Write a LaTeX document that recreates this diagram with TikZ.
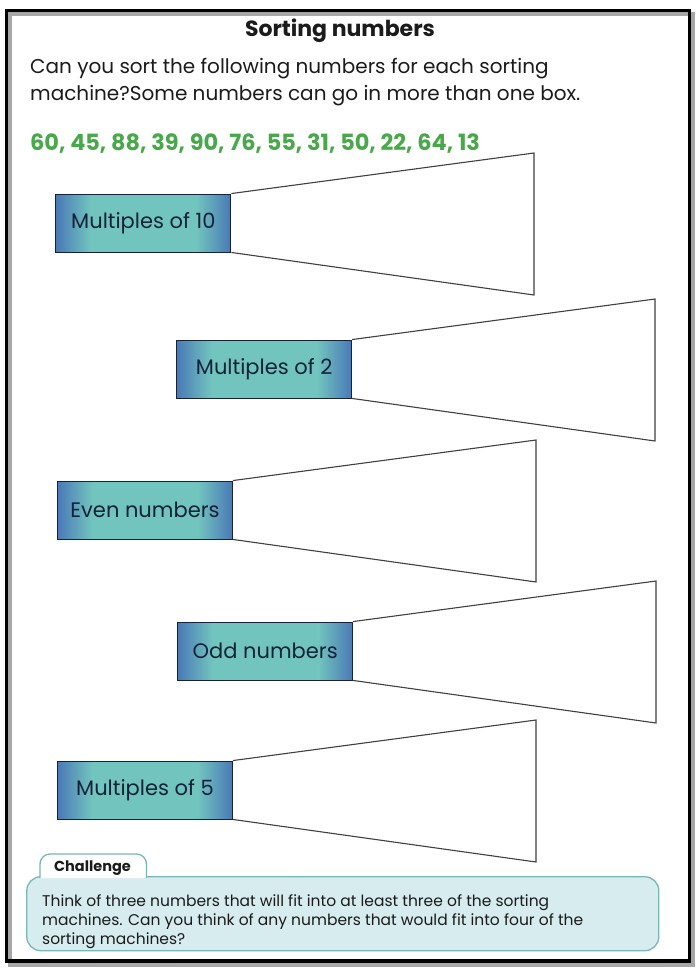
\documentclass[tikz,border=0pt]{standalone}
\usepackage{fontspec}
\setmainfont{Poppins}
\usepackage{xcolor}
\usetikzlibrary{shapes.geometric, arrows}
\definecolor{boxteal}{HTML}{72C5BE}
\definecolor{boxblue}{HTML}{4A79B6}
\definecolor{boxink}{HTML}{14233A}
\definecolor{numgreen}{HTML}{48A84A}
\definecolor{chalfill}{HTML}{D7ECEF}
\definecolor{challine}{HTML}{79B7B2}
\definecolor{ink}{HTML}{1B1B1B}
\pgfdeclarehorizontalshading{boxshade}{100bp}{color(0bp)=(boxblue); color(25bp)=(boxblue); color(35bp)=(boxteal); color(65bp)=(boxteal); color(75bp)=(boxblue); color(100bp)=(boxblue)}
\tikzstyle{frame} = [draw=black, line width=3.6pt]
\tikzstyle{shadowline} = [draw=black!35, line width=4pt]
\tikzstyle{heading} = [inner sep=0, anchor=base, text=ink, font=\fontsize{22}{26}\selectfont\bfseries]
\tikzstyle{question} = [inner sep=0, anchor=base west, text=ink, font=\fontsize{20}{24}\selectfont]
\tikzstyle{numbers} = [inner sep=0, anchor=base west, text=numgreen, font=\fontsize{22.4}{26}\selectfont\bfseries]
\tikzstyle{sortbox} = [rectangle, draw=boxink, line width=0.9pt, minimum width=175pt, minimum height=58pt, inner sep=0, shading=boxshade, text=boxink, font=\fontsize{21}{24}\selectfont]
\tikzstyle{funnel} = [draw=black!75, line width=1.1pt, line join=miter]
\tikzstyle{chalbox} = [rectangle, draw=challine, line width=1.3pt, rounded corners=14pt, fill=chalfill, minimum width=632pt, minimum height=74pt, inner sep=0]
\tikzstyle{chaltab} = [draw=challine, line width=1.3pt, rounded corners=10pt, fill=white]
\tikzstyle{tabtext} = [inner sep=0, text=ink, font=\fontsize{14.5}{16}\selectfont\bfseries]
\tikzstyle{chaltext} = [inner sep=0, anchor=base west, text=ink, font=\fontsize{15.5}{18}\selectfont]

\begin{document}
\begin{tikzpicture}[x=1pt, y=-1pt]

\useasboundingbox [fill=white] (0,0) rectangle (696,974);
\draw [shadowline] (10,14.5) rectangle (692.5,965);
\draw [frame] (6.5,10.5) rectangle (689.5,961);

\node [heading] (title) at (340,36.7) {Sorting numbers};
\node [question] (q1) at (30,74) {Can you sort the following numbers for each sorting};
\node [question] (q2) at (30,100) {machine?Some numbers can go in more than one box.};
\node [numbers] (nums) at (30,150) {60, 45, 88, 39, 90, 76, 55, 31, 50, 22, 64, 13};

% sorting machines
\node [sortbox] (ten) at (143.4,223) {Multiples of 10};
\node [sortbox] (two) at (264.2,369) {Multiples of 2};
\node [sortbox] (even) at (145,510) {Even numbers};
\node [sortbox] (odd) at (265.2,651) {Odd numbers};
\node [sortbox] (five) at (145,790) {Multiples of 5};

\coordinate (tent) at (534,153);
\coordinate (tenb) at (534,295);
\coordinate (twot) at (655,299);
\coordinate (twob) at (655,441);
\coordinate (event) at (536,440);
\coordinate (evenb) at (536,582);
\coordinate (oddt) at (656,581);
\coordinate (oddb) at (656,723);
\coordinate (fivet) at (536,720);
\coordinate (fiveb) at (536,862);

\draw [funnel] (ten.north east) -- (tent) -- (tenb) -- (ten.south east);
\draw [funnel] (two.north east) -- (twot) -- (twob) -- (two.south east);
\draw [funnel] (even.north east) -- (event) -- (evenb) -- (even.south east);
\draw [funnel] (odd.north east) -- (oddt) -- (oddb) -- (odd.south east);
\draw [funnel] (five.north east) -- (fivet) -- (fiveb) -- (five.south east);

% challenge
\node [chalbox] (chal) at (342.8,913.7) {};
\path [chaltab] (40,878) -- (40,854) -- (146.5,854) -- (146.5,878);
\node [tabtext] (chaltitle) at (92.5,868) {Challenge};
\node [chaltext] (c1) at (42,906.7) {Think of three numbers that will fit into at least three of the sorting};
\node [chaltext] (c2) at (42,925) {machines. Can you think of any numbers that would fit into four of the};
\node [chaltext] (c3) at (42,944) {sorting machines?};

\end{tikzpicture}
\end{document}
